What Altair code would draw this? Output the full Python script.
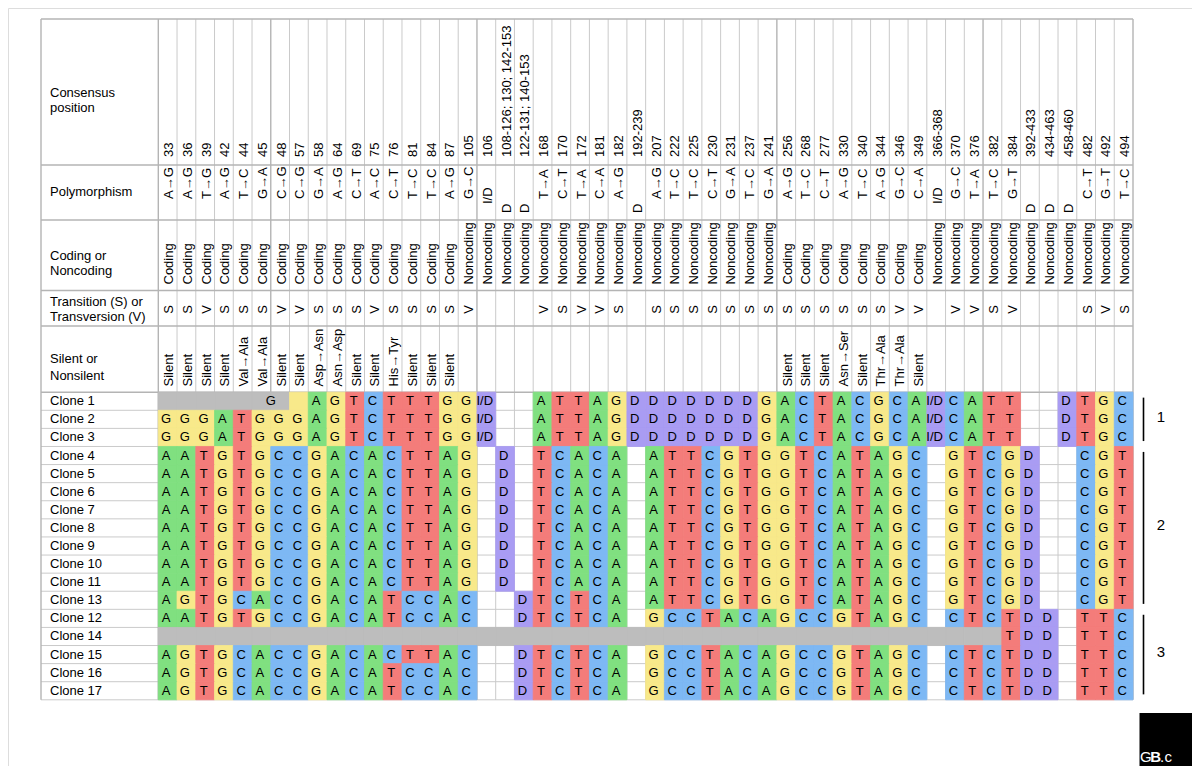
import altair as alt
import pandas as pd

# ---------------- data ----------------
positions = ["33", "36", "39", "42", "44", "45", "48", "57", "58", "64", "69", "75", "76", "81",
             "84", "87", "105", "106", "108-126; 130; 142-153", "122-131; 140-153", "168", "170",
             "172", "181", "182", "192-239", "207", "222", "225", "230", "231", "237", "241",
             "256", "268", "277", "330", "340", "344", "346", "349", "366-368", "370", "376",
             "382", "384", "392-433", "434-463", "458-460", "482", "492", "494"]

polymorphism = ["A→G", "A→G", "T→G", "A→G", "T→C", "G→A", "C→G", "C→G", "G→A", "A→G", "C→T",
                "A→C", "C→T", "T→C", "T→C", "A→G", "G→C", "I/D", "D", "D", "T→A", "C→T", "T→A",
                "C→A", "A→G", "D", "A→G", "T→C", "T→C", "C→T", "G→A", "T→C", "G→A", "A→G",
                "T→C", "C→T", "A→G", "T→C", "A→G", "G→C", "C→A", "I/D", "G→C", "T→A", "T→C",
                "G→T", "D", "D", "D", "C→T", "G→T", "T→C"]

coding = ["Coding"] * 16 + ["Noncoding"] * 17 + ["Coding"] * 8 + ["Noncoding"] * 11

transition = ("S S V S S S V V S S S V S S S S V . . . V S V V S . "
              "S S S S S S S S S S S S S V V . V V S V . . . S V S").split()

silent = (["Silent"] * 4 + ["Val→Ala", "Val→Ala", "Silent", "Silent", "Asp→Asn", "Asn→Asp",
                            "Silent", "Silent", "His→Tyr", "Silent", "Silent", "Silent"]
          + [""] * 17
          + ["Silent", "Silent", "Silent", "Asn→Ser", "Silent", "Thr→Ala", "Thr→Ala", "Silent"]
          + [""] * 11)

clone_names = ["Clone 1", "Clone 2", "Clone 3", "Clone 4", "Clone 5", "Clone 6", "Clone 7",
               "Clone 8", "Clone 9", "Clone 10", "Clone 11", "Clone 13", "Clone 12", "Clone 14",
               "Clone 15", "Clone 16", "Clone 17"]

# "-" = not sequenced (grey), "." = blank, lower case = coloured without letter
seq_c1 = "- - - - - - - g A G T C T T T G G I/D . . A T T A G D D D D D D D G A C T A C G C A I/D C A T T . . D T G C"
seq_c2 = "G G G A T G G G A G T C T T T G G I/D . . A T T A G D D D D D D D G A C T A C G C A I/D C A T T . . D T G C"
seq_c4 = "A A T G T G C C G A C A C T T A G . D . T C A C A . A T T C G T G G T C A T A G C . G T C G D . . C G T"
seq_c13 = "A G T G C A C C G A C A T C C A C . . D T C T C A . A T T C G T G G T C A T A G C . G T C G D . . C G T"
seq_c12 = "A A T G T G C C G A C A T C C A C . . D T C T C A . G C C T A C A G C C G T A G C . C T C T D D . T T C"
seq_c14 = " ".join(["-"] * 45) + " T D D . T T C"
seq_c15 = "A G T G C A C C G A C A C T T A C . . D T C T C A . G C C T A C A G C C G T A G C . C T C T D D . T T C"
seq_c16 = "A G T G C A C C G A C A T C C A C . . D T C T C A . G C C T A C A G C C G T A G C . C T C T D D . T T C"

clone_seqs = [seq_c1, seq_c2, seq_c2, seq_c4, seq_c4, seq_c4, seq_c4, seq_c4, seq_c4, seq_c4,
              seq_c4, seq_c13, seq_c12, seq_c14, seq_c15, seq_c16, seq_c16]

grey_notes = [("Clone 1", "G")]

group_labels = ["1", "2", "3"]
group_first = [0, 3, 12]
group_last = [2, 11, 16]

header_labels = [["Consensus", "position"], ["Polymorphism"], ["Coding or", "Noncoding"],
                 ["Transition (S) or", "Transversion (V)"], ["Silent or", "Nonsilent"]]

logo_text = ["G", "B", ".", "c"]
logo_weight = ["normal", "bold", "normal", "normal"]

# ---------------- layout ----------------
PAGE_W, PAGE_H, MARGIN = 1200, 774, 8
W, H = PAGE_W - 2 * MARGIN, PAGE_H - 2 * MARGIN
NCOL = len(positions)
TABLE_L, TABLE_R, TABLE_T, TABLE_B = 41.0, 1133.0, 19.0, 699.8
COL0 = 158.3
COLW = (TABLE_R - COL0) / NCOL
ROW0 = 392.2
ROWH = (TABLE_B - ROW0) / len(clone_names)
HEADER_EDGES = [165.0, 220.0, 290.5, 326.0]
LABEL_LINES_Y = [[93.3, 108.3], [192.3], [255.7, 271.0], [301.7, 316.7], [359.3, 376.0]]
FONT = "Liberation Sans"


def ux(px):
    return (px - COL0) / COLW


def uy(py):
    return (py - ROW0) / ROWH


# scales map page pixels (offset by the 8px margin) onto column / row units
xs = alt.Scale(domain=[ux(MARGIN), ux(MARGIN + W)], range=[0, W], nice=False, zero=False)
ys = alt.Scale(domain=[uy(MARGIN), uy(MARGIN + H)], range=[0, H], nice=False, zero=False)

kinds = ["A", "C", "G", "T", "D", "gap"]
kind_colors = ["#80E080", "#7DB8F4", "#F8E98A", "#F47C7A", "#A99CF3", "#BDBDBD"]
cscale = alt.Scale(domain=kinds, range=kind_colors)


def X(f="x"):
    return alt.X(f + ":Q", scale=xs, axis=None)


def Y(f="y"):
    return alt.Y(f + ":Q", scale=ys, axis=None)


# ---------------- grid ----------------
strong = {6, 17, 33, 44}
vlines = pd.DataFrame({
    "x": [ux(TABLE_L)] + list(range(0, NCOL + 1)),
    "strong": [1] + [1 if (c in strong or c in (0, NCOL)) else 0 for c in range(0, NCOL + 1)],
})
vlines["y"] = uy(TABLE_T)
vlines["y2"] = uy(TABLE_B)

hl = [uy(e) for e in HEADER_EDGES] + [uy(ROW0)]
hlines_strong = pd.DataFrame({"y": [uy(TABLE_T)] + hl})
hlines_strong["x"] = ux(TABLE_L)
hlines_strong["x2"] = ux(TABLE_R)
hlines_thin = pd.DataFrame({"y": list(range(1, len(clone_names) + 1))})
hlines_thin["x"] = ux(TABLE_L)
hlines_thin["x2"] = ux(TABLE_R)

grid_v_thin = alt.Chart(vlines[vlines.strong == 0]).mark_rule(color="#CACACA", strokeWidth=1).encode(
    x=X(), y=Y(), y2="y2:Q")
grid_v_strong = alt.Chart(vlines[vlines.strong == 1]).mark_rule(color="#B4B4B4", strokeWidth=1.4).encode(
    x=X(), y=Y(), y2="y2:Q")
grid_h_thin = alt.Chart(hlines_thin).mark_rule(color="#CACACA", strokeWidth=1).encode(
    y=Y(), x=X(), x2="x2:Q")
grid_h_strong = alt.Chart(hlines_strong).mark_rule(color="#B4B4B4", strokeWidth=1.6).encode(
    y=Y(), x=X(), x2="x2:Q")

# ---------------- cells ----------------
cells = []
for r, seq in enumerate(clone_seqs):
    toks = seq.split()
    assert len(toks) == NCOL, (r, len(toks))
    for c, t in enumerate(toks):
        if t == ".":
            continue
        if t == "-":
            kind, lab = "gap", ""
        elif t == "I/D":
            kind, lab = "D", "I/D"
        elif t.islower():
            kind, lab = t.upper(), ""
        else:
            kind, lab = t, t
        cells.append({"x": c, "x2": c + 1, "y": r, "y2": r + 1, "xc": c + 0.5, "yc": r + 0.5,
                      "kind": kind, "label": lab})
cells = pd.DataFrame(cells)

rects = alt.Chart(cells).mark_rect(strokeWidth=0.8).encode(
    x=X(), x2="x2:Q", y=Y(), y2="y2:Q",
    color=alt.Color("kind:N", scale=cscale, legend=None),
    stroke=alt.Stroke("kind:N", scale=cscale, legend=None))

letters = alt.Chart(cells[cells.label != ""]).mark_text(
    font=FONT, fontSize=13, color="#000", baseline="middle", align="center", dx=-1.5).encode(
    x=X("xc"), y=Y("yc"), text="label:N")

gn = []
for name, lab in grey_notes:
    r = clone_names.index(name)
    toks = clone_seqs[r].split()
    n_grey = sum(1 for t in toks if t == "-")
    gn.append({"x": n_grey - 1, "y": r + 0.5, "label": lab})
grey_txt = alt.Chart(pd.DataFrame(gn)).mark_text(
    font=FONT, fontSize=13, color="#000", baseline="middle", align="center").encode(
    x=X(), y=Y(), text="label:N")

# ---------------- header ----------------
hdr = pd.DataFrame({"xc": [c + 0.5 for c in range(NCOL)], "pos": positions, "poly": polymorphism,
                    "coding": coding, "trans": [t if t != "." else "" for t in transition],
                    "silent": silent})
poly_start = {"I/D": 204.0, "D": 213.0}
hdr["y_pos"] = uy(157.0)
hdr["y_poly"] = [uy(poly_start.get(p, 199.0)) for p in polymorphism]
hdr["y_cod"] = uy(284.5)
hdr["y_tr"] = uy(309.5)
hdr["y_sil"] = uy(386.5)


def vtext(field, yfield, align="left"):
    d = hdr[hdr[field] != ""]
    return alt.Chart(d).mark_text(font=FONT, fontSize=13, color="#000", angle=270, align=align,
                                  baseline="middle", dy=1.5).encode(
        x=X("xc"), y=Y(yfield), text=field + ":N")


hdr_layers = [vtext("pos", "y_pos"), vtext("poly", "y_poly"), vtext("coding", "y_cod"),
              vtext("trans", "y_tr", "center"), vtext("silent", "y_sil")]

lab_rows = []
for lines, ys_ in zip(header_labels, LABEL_LINES_Y):
    for t, yy in zip(lines, ys_):
        lab_rows.append({"x": ux(50), "y": uy(yy), "label": t})
for r, name in enumerate(clone_names):
    lab_rows.append({"x": ux(50), "y": r + 0.5, "label": name})
row_labels = alt.Chart(pd.DataFrame(lab_rows)).mark_text(
    font=FONT, fontSize=13, color="#000", align="left", baseline="middle").encode(
    x=X(), y=Y(), text="label:N")

# ---------------- groups ----------------
gdf = pd.DataFrame({"label": group_labels, "first": group_first, "last": group_last})
gdf["y"] = gdf["first"] + 0.3
gdf["y2"] = gdf["last"] + 1 - 0.3
gdf["ym"] = (gdf["first"] + gdf["last"] + 1) / 2 - 0.15
gdf["x"] = ux(1143.5)
gdf["xl"] = ux(1161)
grp_rules = alt.Chart(gdf).mark_rule(color="#000", strokeWidth=1.6).encode(x=X(), y=Y(), y2="y2:Q")
grp_text = alt.Chart(gdf).mark_text(font=FONT, fontSize=15, color="#000", baseline="middle").encode(
    x=X("xl"), y=Y("ym"), text="label:N")

# ---------------- logo ----------------
logo_box = alt.Chart(pd.DataFrame({"x": [ux(1139.5)], "x2": [ux(1210)], "y": [uy(713)],
                                   "y2": [uy(790)]})).mark_rect(color="#000").encode(
    x=X(), x2="x2:Q", y=Y(), y2="y2:Q")
logo_parts = pd.DataFrame({"x": [ux(1140), ux(1150.3), ux(1160), ux(1164.5)],
                           "y": [uy(762)] * 4, "t": logo_text, "w": logo_weight})
logo_txt_n = alt.Chart(logo_parts[logo_parts.w == "normal"]).mark_text(
    font=FONT, fontSize=15, color="#fff", align="left", baseline="alphabetic").encode(
    x=X(), y=Y(), text="t:N")
logo_txt_b = alt.Chart(logo_parts[logo_parts.w == "bold"]).mark_text(
    font=FONT, fontSize=15, fontWeight="bold", color="#fff", align="left",
    baseline="alphabetic").encode(x=X(), y=Y(), text="t:N")

chart = alt.layer(
    grid_v_thin, grid_h_thin, grid_v_strong, grid_h_strong, rects, letters, grey_txt,
    *hdr_layers, row_labels, grp_rules, grp_text, logo_box, logo_txt_n, logo_txt_b
).properties(
    width=W, height=H, padding=0, autosize=alt.AutoSizeParams(type="none")
).configure_view(strokeWidth=0, stroke="transparent").configure(background="transparent")

chart.save("out.html", embed_options={"renderer": "svg", "actions": False})
